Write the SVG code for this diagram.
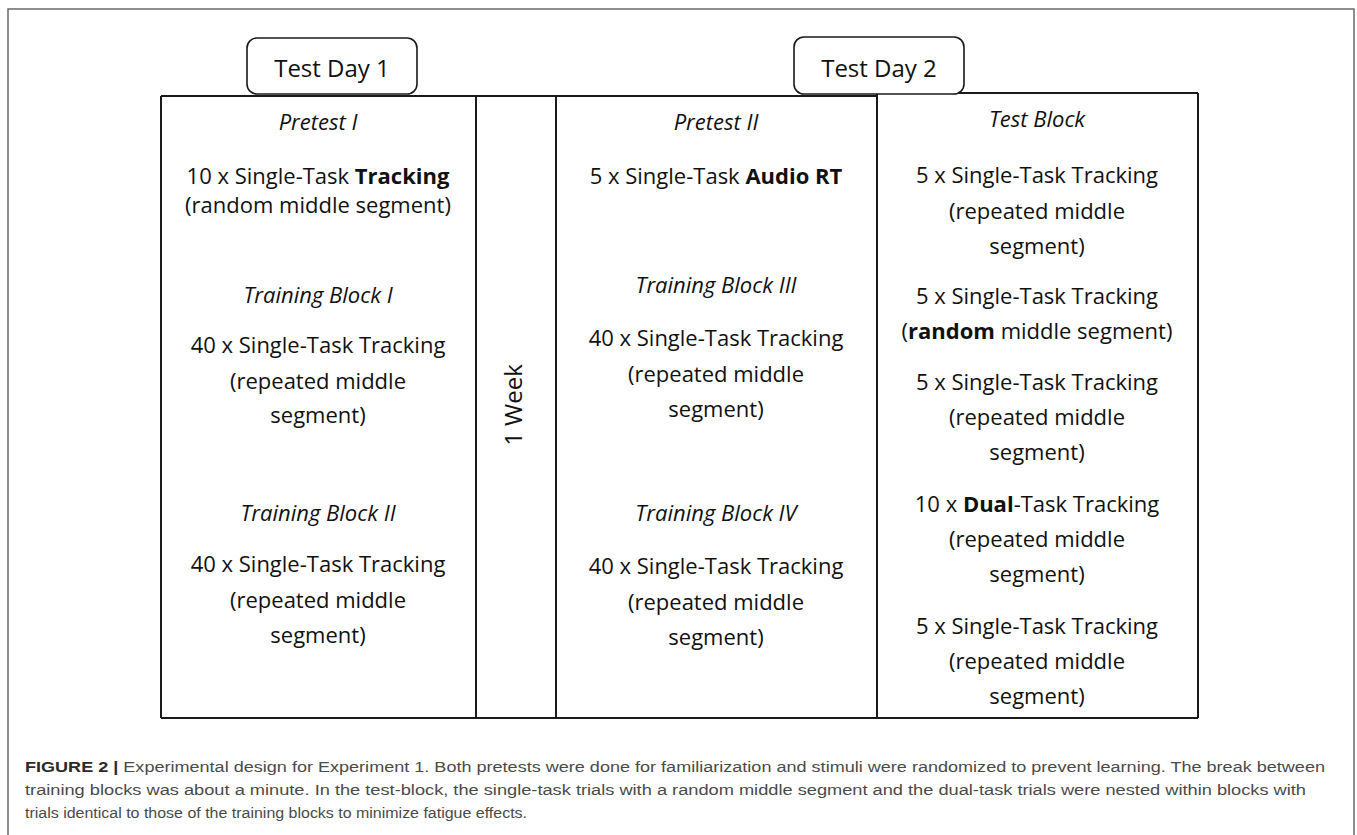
<svg xmlns="http://www.w3.org/2000/svg" width="1357" height="835" viewBox="0 0 1357 835">
<style>
.t{font-family:"Open Sans","Noto Sans","Liberation Sans",sans-serif;font-size:22px;fill:#111;text-anchor:middle}
.i{font-style:italic}
.b{font-weight:bold}
.day{font-size:24px}
.ln{stroke:#1a1a1a;stroke-width:2;fill:none}
.box{stroke:#1a1a1a;stroke-width:1.6;fill:#fff}
.cap{font-family:"Liberation Sans",Arial,sans-serif;font-size:15.5px;fill:#4a4a4a}
.capb{font-weight:bold;fill:#2a2a2a}
</style>
<rect width="1357" height="835" fill="#fff"/>
<path d="M8,845 V9 H1354 V845" fill="none" stroke="#6a6a6a" stroke-width="1.5"/>

<g id="connectors"></g>

<g id="table-frame">
<path class="ln" d="M161,96 H877 M877,93 H1198 M161,718 H1198 M161,96 V718 M476,96 V718 M556,96 V718 M877,93 V718 M1198,93 V718"/>
</g>

<g id="test-day-1">
<rect class="box" x="247" y="38" width="170" height="56" rx="10"/>
<text class="t day" x="332" y="77">Test Day 1</text>
</g>

<g id="test-day-2">
<rect class="box" x="794" y="37" width="170" height="57" rx="10"/>
<text class="t day" x="879" y="77">Test Day 2</text>
</g>

<g id="col-day1">
<text class="t i" x="318" y="130">Pretest I</text>
<text class="t" x="318" y="184">10 x Single-Task <tspan class="b">Tracking</tspan></text>
<text class="t" x="318" y="213">(random middle segment)</text>
<text class="t i" x="318" y="303">Training Block I</text>
<text class="t" x="318" y="353">40 x Single-Task Tracking</text>
<text class="t" x="318" y="389">(repeated middle</text>
<text class="t" x="318" y="423">segment)</text>
<text class="t i" x="318" y="521">Training Block II</text>
<text class="t" x="318" y="572">40 x Single-Task Tracking</text>
<text class="t" x="318" y="608">(repeated middle</text>
<text class="t" x="318" y="643">segment)</text>
</g>

<g id="week">
<text class="t" style="font-size:24px" transform="translate(522,405) rotate(-90)">1 Week</text>
</g>

<g id="col-day2">
<text class="t i" x="716" y="130">Pretest II</text>
<text class="t" x="716" y="184">5 x Single-Task <tspan class="b">Audio RT</tspan></text>
<text class="t i" x="716" y="293">Training Block III</text>
<text class="t" x="716" y="346">40 x Single-Task Tracking</text>
<text class="t" x="716" y="382">(repeated middle</text>
<text class="t" x="716" y="417">segment)</text>
<text class="t i" x="716" y="521">Training Block IV</text>
<text class="t" x="716" y="574">40 x Single-Task Tracking</text>
<text class="t" x="716" y="610">(repeated middle</text>
<text class="t" x="716" y="645">segment)</text>
</g>

<g id="col-test-block">
<text class="t i" x="1037" y="127">Test Block</text>
<text class="t" x="1037" y="183">5 x Single-Task Tracking</text>
<text class="t" x="1037" y="219">(repeated middle</text>
<text class="t" x="1037" y="254">segment)</text>
<text class="t" x="1037" y="304">5 x Single-Task Tracking</text>
<text class="t" x="1037" y="339">(<tspan class="b">random</tspan> middle segment)</text>
<text class="t" x="1037" y="390">5 x Single-Task Tracking</text>
<text class="t" x="1037" y="425">(repeated middle</text>
<text class="t" x="1037" y="460">segment)</text>
<text class="t" x="1037" y="512">10 x <tspan class="b">Dual</tspan>-Task Tracking</text>
<text class="t" x="1037" y="547">(repeated middle</text>
<text class="t" x="1037" y="582">segment)</text>
<text class="t" x="1037" y="634">5 x Single-Task Tracking</text>
<text class="t" x="1037" y="669">(repeated middle</text>
<text class="t" x="1037" y="704">segment)</text>
</g>

<g id="caption">
<text class="cap" x="25" y="772" textLength="1300" lengthAdjust="spacingAndGlyphs"><tspan class="capb">FIGURE 2 |</tspan> Experimental design for Experiment 1. Both pretests were done for familiarization and stimuli were randomized to prevent learning. The break between</text>
<text class="cap" x="25" y="795" textLength="1281" lengthAdjust="spacingAndGlyphs">training blocks was about a minute. In the test-block, the single-task trials with a random middle segment and the dual-task trials were nested within blocks with</text>
<text class="cap" x="25" y="818" textLength="502" lengthAdjust="spacingAndGlyphs">trials identical to those of the training blocks to minimize fatigue effects.</text>
</g>
</svg>
